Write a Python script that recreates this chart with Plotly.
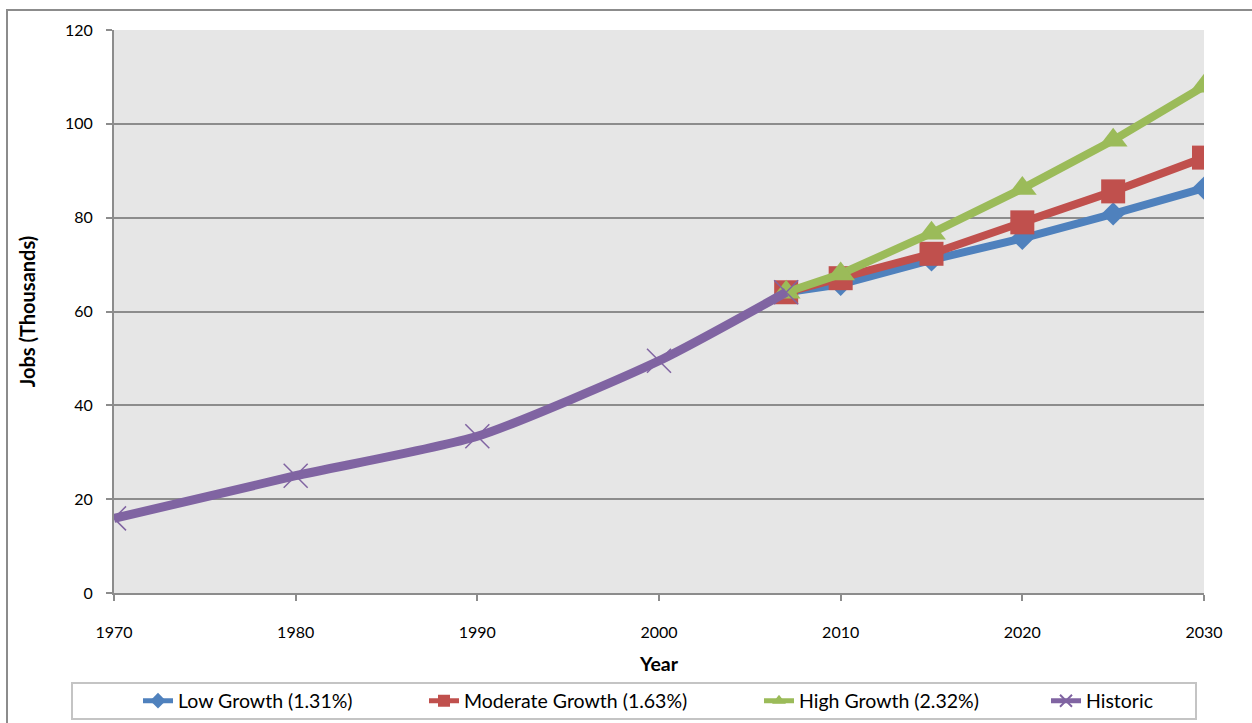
import plotly.graph_objects as go

# Employment series (thousands of jobs)
hist_years = [1970, 1980, 1990, 2000, 2007]
hist_jobs = [15.9, 25.0, 33.4, 49.5, 64.1]

proj_years = [2007, 2010, 2015, 2020, 2025, 2030]
low_jobs = [64.1, 65.8, 71.0, 75.6, 80.8, 86.3]
moderate_jobs = [64.1, 67.1, 72.3, 79.0, 85.6, 92.8]
high_jobs = [64.1, 68.0, 76.7, 86.2, 96.5, 108.0]

series_names = ["Low Growth (1.31%)", "Moderate Growth (1.63%)",
                "High Growth (2.32%)", "Historic"]

FONT = "Lato"
GRID = "#8c8c8c"
W, H = 1252, 723
L, R, T, B = 114, 48, 30, 130

fig = go.Figure()

fig.add_trace(go.Scatter(
    x=proj_years, y=low_jobs, name=series_names[0], mode="lines+markers",
    line=dict(color="#4f81bd", width=8),
    marker=dict(symbol="diamond", size=18, color="#4f81bd"),
    legend="legend",
))
fig.add_trace(go.Scatter(
    x=proj_years, y=moderate_jobs, name=series_names[1], mode="lines+markers",
    line=dict(color="#c0504d", width=8),
    marker=dict(symbol="square", size=24, color="#c0504d"),
    legend="legend2",
))
fig.add_trace(go.Scatter(
    x=proj_years, y=high_jobs, name=series_names[2], mode="lines+markers",
    line=dict(color="#9bbb59", width=8),
    marker=dict(symbol="triangle-up", size=25, color="#9bbb59"),
    legend="legend3",
))
fig.add_trace(go.Scatter(
    x=hist_years, y=hist_jobs, name=series_names[3], mode="lines+markers",
    line=dict(color="#8064a2", width=9, shape="spline", smoothing=0.6),
    marker=dict(symbol="x-thin", size=24, color="#8064a2",
                line=dict(color="#8064a2", width=1.5)),
    legend="legend4",
))


def px_to_paper_x(px):
    return (px - L) / (W - L - R)


def px_to_paper_y(py):
    return (H - B - py) / (H - T - B)


# Outer chart frame
fig.add_shape(type="rect", xref="paper", yref="paper",
              x0=px_to_paper_x(7), x1=px_to_paper_x(1320),
              y0=px_to_paper_y(780), y1=px_to_paper_y(10),
              line=dict(color="#8c8c8c", width=2), fillcolor="rgba(0,0,0,0)",
              layer="below")
# Legend frame
fig.add_shape(type="rect", xref="paper", yref="paper",
              x0=px_to_paper_x(72), x1=px_to_paper_x(1196),
              y0=px_to_paper_y(719), y1=px_to_paper_y(683),
              line=dict(color="#c4c4c4", width=2), fillcolor="white",
              layer="below")

legend_text_x = [180, 466, 801, 1088]
legend_common = dict(
    orientation="h", xref="container", yref="container",
    yanchor="middle", xanchor="left", y=(H - 701) / H,
    bgcolor="rgba(0,0,0,0)", borderwidth=0,
    font=dict(family=FONT, size=19.5, color="black"),
    itemsizing="constant",
)
legends = {}
for i, tx in enumerate(legend_text_x):
    key = "legend" if i == 0 else f"legend{i + 1}"
    legends[key] = dict(legend_common, x=(tx - 42) / W)

fig.update_layout(
    width=W, height=H,
    margin=dict(l=L, r=R, t=T, b=B, autoexpand=False),
    paper_bgcolor="white",
    plot_bgcolor="#e6e6e6",
    font=dict(family=FONT, size=16, color="black"),
    showlegend=True,
    **legends,
    xaxis=dict(
        range=[1970, 2030], tickmode="array",
        tickvals=[1970, 1980, 1990, 2000, 2010, 2020, 2030],
        showgrid=False, zeroline=False,
        showline=True, linecolor=GRID, linewidth=2,
        ticks="outside", ticklen=6, tickcolor=GRID, tickwidth=2,
        ticklabelstandoff=18,
        title=dict(text="<b>Year</b>", font=dict(family=FONT, size=19.5), standoff=17),
    ),
    yaxis=dict(
        range=[0, 120], dtick=20,
        showgrid=True, gridcolor=GRID, gridwidth=2, zeroline=False,
        showline=True, linecolor=GRID, linewidth=2,
        ticks="outside", ticklen=6, tickcolor=GRID, tickwidth=2,
        ticklabelstandoff=10,
        title=dict(text="<b>Jobs (Thousands)</b>", font=dict(family=FONT, size=20), standoff=24),
    ),
)

fig.write_html("out.html")
